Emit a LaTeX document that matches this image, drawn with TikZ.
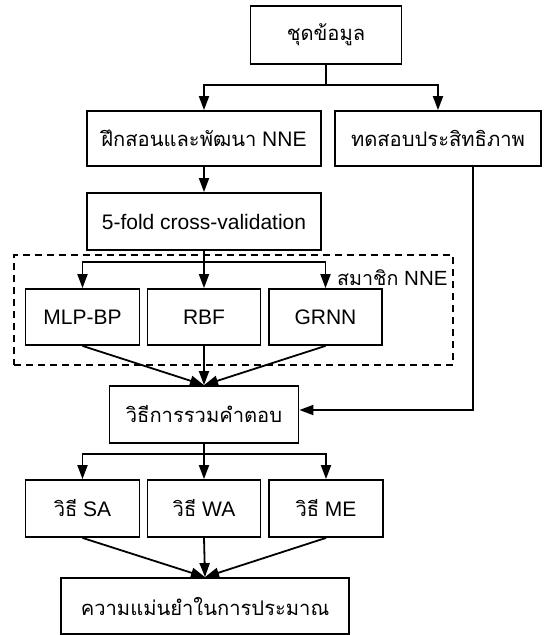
\documentclass[tikz,border=0pt]{standalone}
\usepackage{fontspec}
\setmainfont{Liberation Sans}
\newfontfamily\thai[Script=Thai,Scale=0.96]{Loma}
\usetikzlibrary{arrows.meta,calc}
\begin{document}
\begin{tikzpicture}[x=1pt,y=-1pt,
  box/.style={draw=black,line width=1.8pt,inner sep=0pt,font=\fontsize{21}{25}\selectfont},
  grpbox/.style={draw=black,line width=1.8pt,dash pattern=on 7pt off 5pt,inner sep=0pt},
  lbl/.style={inner sep=0pt,font=\fontsize{20.5}{25}\selectfont},
  arr/.style={line width=1.8pt,-{Triangle[length=14pt,width=10pt]}}]
\useasboundingbox (0,0) rectangle (544,635);
% nodes
\node[box,minimum width=151,minimum height=58] (top) at (326,35) {\thai ชุดข้อมูล};
\node[box,minimum width=234,minimum height=55] (train) at (204,138.5) {{\thai ฝึกสอนและพัฒนา} NNE};
\node[box,minimum width=206,minimum height=55] (test) at (438,138.5) {\thai ทดสอบประสิทธิภาพ};
\node[box,minimum width=234,minimum height=57] (cv) at (204,221.5) {5-fold cross-validation};
\node[grpbox,minimum width=439,minimum height=110] (grp) at (233.4,310) {};
\node[lbl,anchor=west] (grplbl) at (337,278) {{\thai สมาชิก} NNE};
\node[box,minimum width=114,minimum height=56] (mlp) at (82.5,317) {MLP-BP};
\node[box,minimum width=113,minimum height=56] (rbf) at (204,317) {RBF};
\node[box,minimum width=113,minimum height=56] (grnn) at (325.5,317) {GRNN};
\node[box,minimum width=189,minimum height=57] (comb) at (204,414.5) {\thai วิธีการรวมคำตอบ};
\node[box,minimum width=114,minimum height=57] (sa) at (82.5,508.5) {{\thai วิธี} SA};
\node[box,minimum width=113,minimum height=57] (wa) at (204,508.5) {{\thai วิธี} WA};
\node[box,minimum width=114,minimum height=57] (me) at (326,508.5) {{\thai วิธี} ME};
\node[box,minimum width=288,minimum height=56] (fin) at (205,606) {\thai ความแม่นยำในการประมาณ};
% coordinates
\coordinate (b1) at (326,85);
\coordinate (b2) at (204,262);
\coordinate (b3) at (204,454);
\coordinate (c1) at (472.6,410);
% connectors
\draw[arr] (top.south) -- (b1) -| (train.north);
\draw[arr] (top.south) -- (b1) -| (test.north);
\draw[arr] (train) -- (cv);
\draw[arr] (cv.south) -- (b2) -| (mlp.north);
\draw[arr] (cv.south) -- (rbf.north);
\draw[arr] (cv.south) -- (b2) -| (grnn.north);
\draw[arr] (mlp.south) -- (comb.north);
\draw[arr] (rbf.south) -- (comb.north);
\draw[arr] (grnn.south) -- (comb.north);
\draw[arr] (test.south -| c1) -- (c1) -- (c1 -| comb.east);
\draw[arr] (comb.south) -- (b3) -| (sa.north);
\draw[arr] (comb.south) -- (wa.north);
\draw[arr] (comb.south) -- (b3) -| (me.north);
\draw[arr] (sa.south) -- (fin.north);
\draw[arr] (wa.south) -- (fin.north);
\draw[arr] (me.south) -- (fin.north);
\end{tikzpicture}
\end{document}
